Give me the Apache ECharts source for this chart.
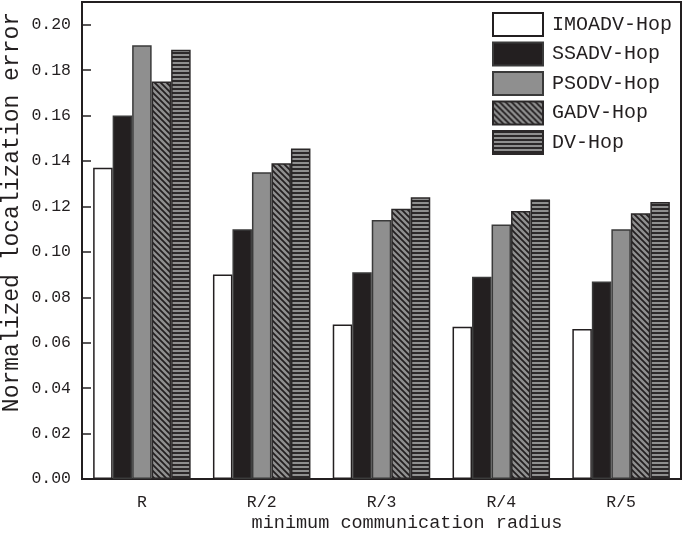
<!DOCTYPE html>
<html>
<head>
<meta charset="utf-8">
<script src="https://cdn.jsdelivr.net/npm/echarts@6/dist/echarts.min.js"></script>
<style>html,body{margin:0;padding:0;background:#fff}#c{width:685px;height:533px}</style>
</head>
<body>
<div id="c"></div>
<script>
const categories = ['R', 'R/2', 'R/3', 'R/4', 'R/5'];
const seriesNames = ['IMOADV-Hop', 'SSADV-Hop', 'PSODV-Hop', 'GADV-Hop', 'DV-Hop'];
const imoadvHop = [0.137, 0.090, 0.068, 0.067, 0.066];
const ssadvHop = [0.160, 0.110, 0.091, 0.089, 0.087];
const psodvHop = [0.191, 0.135, 0.114, 0.112, 0.110];
const gadvHop = [0.175, 0.139, 0.119, 0.118, 0.117];
const dvHop = [0.189, 0.1455, 0.124, 0.123, 0.122];
const yTicks = [0, 0.02, 0.04, 0.06, 0.08, 0.10, 0.12, 0.14, 0.16, 0.18, 0.20];

const INK = '#231f20';
const GRAY = '#8f8f8f';
const FONT = '"Liberation Mono", "DejaVu Sans Mono", monospace';

function hatchPattern() {
  const c = document.createElement('canvas');
  c.width = 6; c.height = 6;
  const g = c.getContext('2d');
  g.fillStyle = GRAY; g.fillRect(0, 0, 6, 6);
  g.strokeStyle = INK; g.lineWidth = 1.8;
  g.beginPath();
  for (const k of [-6, 0, 6]) { g.moveTo(k - 1, -1); g.lineTo(k + 7, 7); }
  g.stroke();
  return { image: c, repeat: 'repeat' };
}
function stripePattern() {
  const c = document.createElement('canvas');
  c.width = 6; c.height = 4;
  const g = c.getContext('2d');
  g.fillStyle = GRAY; g.fillRect(0, 0, 6, 4);
  g.fillStyle = '#2b2829'; g.fillRect(0, 0, 6, 2);
  return { image: c, repeat: 'repeat' };
}

const styles = [
  { color: '#ffffff', borderColor: INK, borderWidth: 1.5 },
  { color: INK, borderColor: '#3a3a3a', borderWidth: 1.5 },
  { color: GRAY, borderColor: '#3a3a3a', borderWidth: 1.5 },
  { color: hatchPattern(), borderColor: '#2b2829', borderWidth: 1.5 },
  { color: stripePattern(), borderColor: '#2b2829', borderWidth: 1.5 }
];
const values = [imoadvHop, ssadvHop, psodvHop, gadvHop, dvHop];

const chart = echarts.init(document.getElementById('c'), null, { renderer: 'canvas' });
chart.setOption({
  animation: false,
  backgroundColor: '#fff',
  grid: { left: 82, right: 4, top: 2, bottom: 54, show: true, borderColor: INK, borderWidth: 2, backgroundColor: 'transparent' },
  legend: {
    orient: 'vertical', left: 492, top: 12, padding: 0,
    itemWidth: 50, itemHeight: 23, itemGap: 4.5,
    icon: 'rect',
    data: seriesNames,
    textStyle: { fontFamily: FONT, fontSize: 20, color: INK, padding: [0, 0, 0, 4] }
  },
  xAxis: {
    type: 'category', data: categories,
    axisLine: { lineStyle: { color: INK, width: 2 } },
    axisTick: { inside: true, alignWithLabel: true, length: 6, lineStyle: { color: INK, width: 1.5 } },
    axisLabel: { fontFamily: FONT, fontSize: 16.5, color: INK, margin: 15 },
    splitLine: { show: false }
  },
  yAxis: {
    type: 'value', min: 0, max: 0.21, interval: 0.02,
    axisLine: { show: true, lineStyle: { color: INK, width: 2 } },
    axisTick: { show: true, inside: true, length: 9, lineStyle: { color: INK, width: 1.5 } },
    axisLabel: {
      fontFamily: FONT, fontSize: 16.5, color: INK, margin: 11, showMaxLabel: false,
      formatter: v => (yTicks.some(t => Math.abs(t - v) < 1e-9) ? v.toFixed(2) : '')
    },
    splitLine: { show: false }
  },
  graphic: [
    { type: 'text', x: 12, y: 212, rotation: Math.PI / 2,
      style: { text: 'Normalized localization error', fontFamily: FONT, fontSize: 23, fill: INK, align: 'center', verticalAlign: 'middle' } },
    { type: 'text', x: 407, y: 523,
      style: { text: 'minimum communication radius', fontFamily: FONT, fontSize: 18.5, fill: INK, align: 'center', verticalAlign: 'middle' } }
  ],
  series: seriesNames.map((name, i) => ({
    name, type: 'bar', data: values[i],
    barGap: '0%', barCategoryGap: '18.6%',
    itemStyle: styles[i]
  }))
});
</script>
</body>
</html>
